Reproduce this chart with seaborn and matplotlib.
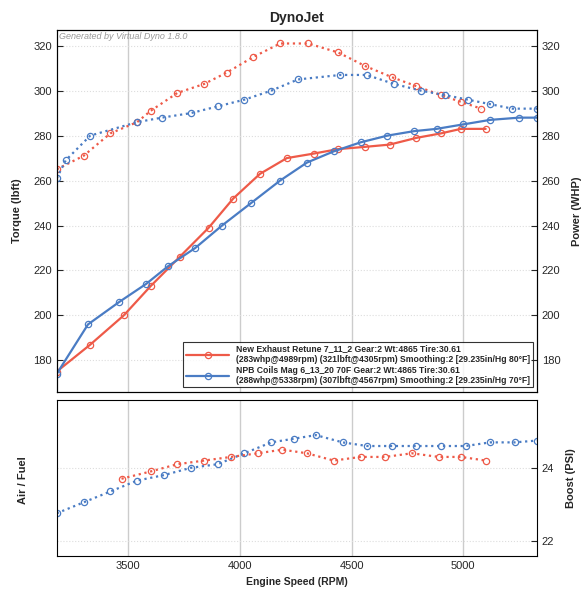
import matplotlib
matplotlib.use("Agg")
import matplotlib.pyplot as plt
import seaborn as sns
from matplotlib.ticker import MultipleLocator

sns.set_style("white")
plt.rcParams['font.family'] = ['Liberation Sans', 'DejaVu Sans']

RED = '#ee5a48'
BLUE = '#4a7cc4'

# Torque (dotted)
red_tq_rpm = [3180, 3300, 3420, 3540, 3600, 3720, 3840, 3940, 4060, 4180, 4305, 4440, 4560, 4680, 4790, 4900, 4990, 5080]
red_tq = [265, 271, 281, 286, 291, 299, 303, 308, 315, 321, 321, 317, 311, 306, 302, 298, 295, 292]
blue_tq_rpm = [3180, 3220, 3330, 3540, 3650, 3780, 3900, 4020, 4140, 4260, 4450, 4567, 4690, 4810, 4920, 5020, 5120, 5220, 5330]
blue_tq = [261, 269, 280, 286, 288, 290, 293, 296, 300, 305, 307, 307, 303, 300, 298, 296, 294, 292, 292]

# Power (solid)
red_hp_rpm = [3180, 3330, 3480, 3600, 3730, 3860, 3970, 4090, 4210, 4330, 4440, 4560, 4670, 4790, 4900, 4989, 5100]
red_hp = [175, 187, 200, 213, 226, 239, 252, 263, 270, 272, 274, 275, 276, 279, 281, 283, 283]
blue_hp_rpm = [3180, 3320, 3460, 3580, 3680, 3800, 3920, 4050, 4180, 4300, 4420, 4540, 4660, 4780, 4880, 5000, 5120, 5250, 5330]
blue_hp = [174, 196, 206, 214, 222, 230, 240, 250, 260, 268, 273, 277, 280, 282, 283, 285, 287, 288, 288]

# Boost
blue_bst_rpm = [3180, 3300, 3420, 3540, 3660, 3780, 3900, 4020, 4140, 4240, 4340, 4460, 4570, 4680, 4790, 4900, 5010, 5120, 5230, 5330]
blue_bst = [22.75, 23.05, 23.35, 23.65, 23.8, 24.0, 24.1, 24.4, 24.7, 24.8, 24.9, 24.7, 24.6, 24.6, 24.6, 24.6, 24.6, 24.7, 24.7, 24.75]
red_bst_rpm = [3470, 3600, 3720, 3840, 3960, 4080, 4190, 4300, 4420, 4540, 4650, 4770, 4890, 4990, 5100]
red_bst = [23.7, 23.9, 24.1, 24.2, 24.3, 24.4, 24.5, 24.4, 24.2, 24.3, 24.3, 24.4, 24.3, 24.3, 24.2]

legend_labels = [
    "New Exhaust Retune 7_11_2 Gear:2 Wt:4865 Tire:30.61\n(283whp@4989rpm) (321lbft@4305rpm) Smoothing:2 [29.235in/Hg 80°F]",
    "NPB Coils Mag 6_13_20 70F Gear:2 Wt:4865 Tire:30.61\n(288whp@5338rpm) (307lbft@4567rpm) Smoothing:2 [29.235in/Hg 70°F]",
]

XLIM = (3180, 5330)
fig = plt.figure(figsize=(5.85, 6.0), dpi=100)
ax = fig.add_axes([0.097, 0.347, 0.821, 0.603])
ax2 = fig.add_axes([0.097, 0.073, 0.821, 0.26])


def draw(a, x, y, color, ls, label=None):
    sns.lineplot(x=x, y=y, ax=a, color=color, linestyle=ls, linewidth=1.6, label=label,
                 marker='o', markersize=4.5, markerfacecolor='none',
                 markeredgecolor=color, markeredgewidth=0.9)


draw(ax, red_tq_rpm, red_tq, RED, ':')
draw(ax, blue_tq_rpm, blue_tq, BLUE, ':')
draw(ax, red_hp_rpm, red_hp, RED, '-', legend_labels[0])
draw(ax, blue_hp_rpm, blue_hp, BLUE, '-', legend_labels[1])

ax.set_xlim(*XLIM)
ax.set_ylim(166, 327)
ax.set_yticks(range(180, 321, 20))
ax.set_xticks([3500, 4000, 4500, 5000])
ax.xaxis.set_minor_locator(MultipleLocator(100))
ax.set_xticklabels([])
ax.grid(axis='x', color='#cccccc', linewidth=1)
ax.grid(axis='y', color='#dddddd', linestyle=':', linewidth=0.8)
ax.set_ylabel('Torque (lbft)', fontsize=8, fontweight='bold', labelpad=8)
ax.set_title('DynoJet', fontsize=10, fontweight='bold', pad=6)
ax.tick_params(labelsize=8, direction='in', length=4)
ax.tick_params(which='minor', direction='in', length=2)
ax.text(0.005, 0.995, 'Generated by Virtual Dyno 1.8.0', transform=ax.transAxes,
        fontsize=6.5, color='#999999', style='italic', va='top', ha='left')
axr = ax.twinx()
axr.set_ylim(ax.get_ylim())
axr.set_yticks(range(180, 321, 20))
axr.set_ylabel('Power (WHP)', fontsize=8, fontweight='bold', labelpad=8)
axr.tick_params(labelsize=8, direction='in', length=4)
leg = ax.legend(loc='lower right', frameon=True, fancybox=False,
                edgecolor='black', borderpad=0.3, handlelength=5, labelspacing=0.2,
                prop={'weight': 'bold', 'size': 6.2})
leg.get_frame().set_linewidth(0.8)

draw(ax2, blue_bst_rpm, blue_bst, BLUE, ':')
draw(ax2, red_bst_rpm, red_bst, RED, ':')
ax2.set_xlim(*XLIM)
ax2.set_ylim(21.57, 25.86)
ax2.set_xticks([3500, 4000, 4500, 5000])
ax2.xaxis.set_minor_locator(MultipleLocator(100))
ax2.set_yticks([22, 24])
ax2.yaxis.tick_right()
ax2.yaxis.set_label_position('right')
ax2.set_ylabel('Boost (PSI)', fontsize=8, fontweight='bold', labelpad=8)
ax2.grid(axis='x', color='#cccccc', linewidth=1)
ax2.grid(axis='y', color='#dddddd', linestyle=':', linewidth=0.8)
ax2.tick_params(labelsize=8, direction='in', length=4)
ax2.tick_params(which='minor', direction='in', length=2)
ax2.set_xlabel('Engine Speed (RPM)', fontsize=7.5, fontweight='bold')
fig.text(0.03, 0.2, 'Air / Fuel', rotation=90, fontsize=8, fontweight='bold', va='center')

for a in (ax, ax2, axr):
    for s in a.spines.values():
        s.set_color('black')
        s.set_linewidth(0.8)

fig.savefig('out.png', dpi=100)
